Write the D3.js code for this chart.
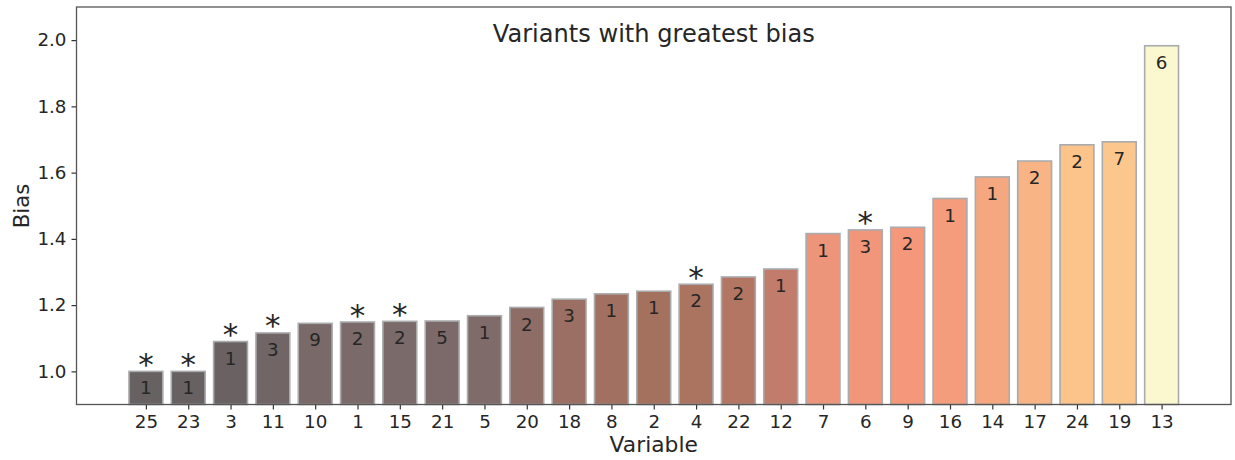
<!DOCTYPE html>
<html>
<head>
<meta charset="utf-8">
<script src="https://cdn.jsdelivr.net/npm/d3@7"></script>
<style>
  html, body { margin: 0; padding: 0; background: #ffffff; }
  svg { display: block; }
  text { font-family: "DejaVu Sans", sans-serif; fill: #262626; }
</style>
</head>
<body>
<svg id="chart" width="1235" height="460"></svg>
<script>
const categories = ["25","23","3","11","10","1","15","21","5","20","18","8","2","4","22","12","7","6","9","16","14","17","24","19","13"];
const bias = [1.000,1.000,1.090,1.116,1.145,1.149,1.151,1.152,1.168,1.193,1.218,1.234,1.242,1.263,1.285,1.309,1.416,1.427,1.435,1.522,1.587,1.635,1.684,1.693,1.983];
const counts = [1,1,1,3,9,2,2,5,1,2,3,1,1,2,2,1,1,3,2,1,1,2,2,7,6];
const significant = [true,true,true,true,false,true,true,false,false,false,false,false,false,true,false,false,false,true,false,false,false,false,false,false,false];
const yTicks = [1.0, 1.2, 1.4, 1.6, 1.8, 2.0];
const title = "Variants with greatest bias";
const xLabel = "Variable";
const yLabel = "Bias";

// colour ramp by bias value
const colorStops = [1.00, 1.09, 1.15, 1.17, 1.19, 1.22, 1.24, 1.26, 1.29, 1.31, 1.42, 1.435, 1.52, 1.59, 1.64, 1.69, 1.98];
const colorValues = ["#676161","#6a6262","#7a6a69","#7f6c6a","#8c6d68","#9c6f63","#a4715f","#a97460","#b47764","#c27c6b","#ee967b","#f5977a","#f49c7c","#f5a97f","#f8b585","#fcc68b","#fbf7cf"];
const color = d3.scaleLinear().domain(colorStops).range(colorValues).interpolate(d3.interpolateRgb);

const svg = d3.select("#chart");
const L = 76.5, R = 1231, T = 7, B = 404.5;
const n = categories.length;
const x = d3.scaleLinear().domain([-1.64, n - 1 + 1.64]).range([L, R]);
const y = d3.scaleLinear().domain([0.9, 2.1]).range([B, T]);
const bw = x(0.4) - x(-0.4);

const idx = d3.range(n);

// bars
svg.append("g").selectAll("rect").data(idx).join("rect")
  .attr("x", i => x(i) - bw / 2)
  .attr("y", i => y(bias[i]))
  .attr("width", bw)
  .attr("height", i => B - y(bias[i]))
  .attr("fill", i => color(bias[i]))
  .attr("stroke", "#a9abad")
  .attr("stroke-width", 1.6);

// count labels
svg.append("g").selectAll("text").data(idx).join("text")
  .attr("x", i => x(i))
  .attr("y", i => y(bias[i] - 0.05) + 6.5)
  .attr("text-anchor", "middle")
  .style("font-size", "18.3px")
  .text(i => counts[i]);

// stars
svg.append("g").selectAll("text").data(idx.filter(i => significant[i])).join("text")
  .attr("x", i => x(i))
  .attr("y", i => y(bias[i]) + 3.5)
  .attr("text-anchor", "middle")
  .style("font-size", "31px")
  .text("*");

// axes
const xAxis = d3.axisBottom(x).tickValues(idx).tickFormat(i => categories[i]).tickSizeOuter(0).tickSize(5).tickPadding(6);
const gx = svg.append("g").attr("transform", `translate(0,${B})`).call(xAxis);
gx.select(".domain").remove();
gx.selectAll(".tick line").attr("stroke", "#333").attr("stroke-width", 1.2);
gx.selectAll(".tick text").style("font-size", "18.3px").style("font-family", "DejaVu Sans").attr("fill", "#262626");

const yAxis = d3.axisLeft(y).tickValues(yTicks).tickFormat(d3.format(".1f")).tickSizeOuter(0).tickSize(5).tickPadding(5);
const gy = svg.append("g").attr("transform", `translate(${L},0)`).call(yAxis);
gy.select(".domain").remove();
gy.selectAll(".tick line").attr("stroke", "#333").attr("stroke-width", 1.2);
gy.selectAll(".tick text").style("font-size", "18.3px").style("font-family", "DejaVu Sans").attr("fill", "#262626");

// frame
svg.append("rect").attr("x", L).attr("y", T).attr("width", R - L).attr("height", B - T)
  .attr("fill", "none").attr("stroke", "#555").attr("stroke-width", 1.3);

// labels
svg.append("text").attr("x", (L + R) / 2).attr("y", 41.5).attr("text-anchor", "middle")
  .style("font-size", "24.1px").text(title);
svg.append("text").attr("x", (L + R) / 2).attr("y", 452).attr("text-anchor", "middle")
  .style("font-size", "21.8px").text(xLabel);
svg.append("text").attr("transform", `translate(29,206) rotate(-90)`).attr("text-anchor", "middle")
  .style("font-size", "21.3px").text(yLabel);
</script>
</body>
</html>
